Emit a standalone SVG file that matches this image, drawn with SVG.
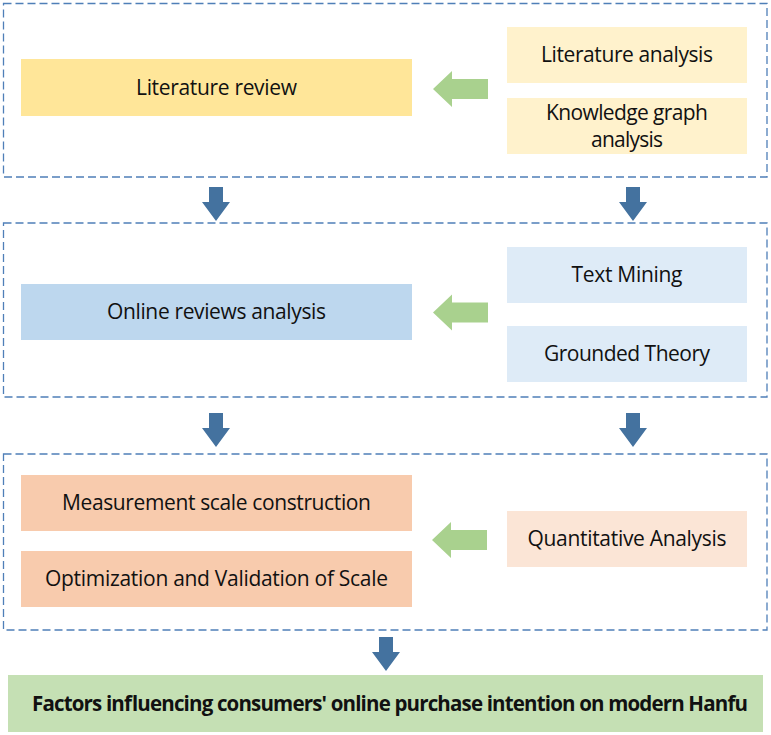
<svg xmlns="http://www.w3.org/2000/svg" width="771" height="735" viewBox="0 0 771 735">
<style>
.frame{fill:none;stroke:#4f7fb8;stroke-width:1.3;stroke-dasharray:8 4}
.t{font-family:"Open Sans","Liberation Sans",sans-serif;font-size:21px;fill:#111;text-anchor:middle}
.b{font-family:"Open Sans","Liberation Sans",sans-serif;font-size:20.5px;font-weight:bold;fill:#111;text-anchor:middle}
.down{fill:#44729f}
.left{fill:#a9d18e}
</style>
<defs>
<path id="dn" d="M-7,0 H7 V15 H14 L0,34 L-14,15 H-7 Z"/>
<path id="lf" d="M0,0 L19,-18 V-10 H55 V10 H19 V18 Z"/>
</defs>
<rect class="frame" x="3.5" y="3.5" width="763.5" height="173.5"/>
<rect class="frame" x="3.5" y="223" width="763.5" height="174"/>
<rect class="frame" x="3.5" y="454" width="763.5" height="176"/>

<g id="n-literature-review"><rect x="21" y="59" width="391" height="57" fill="#ffe699"/><text class="t" x="216.5" y="95" textLength="161">Literature review</text></g>
<g id="n-literature-analysis"><rect x="507" y="27" width="240" height="56" fill="#fff2cc"/><text class="t" x="627" y="62" textLength="172">Literature analysis</text></g>
<g id="n-knowledge-graph"><rect x="507" y="98" width="240" height="56" fill="#fff2cc"/><text class="t" x="627" y="120" textLength="162">Knowledge graph</text><text class="t" x="627" y="147" textLength="72">analysis</text></g>
<g id="n-online-reviews"><rect x="21" y="284" width="391" height="56" fill="#bdd7ee"/><text class="t" x="216.5" y="319" textLength="219">Online reviews analysis</text></g>
<g id="n-text-mining"><rect x="507" y="247" width="240" height="56" fill="#deebf7"/><text class="t" x="627" y="282" textLength="111">Text Mining</text></g>
<g id="n-grounded-theory"><rect x="507" y="326" width="240" height="56" fill="#deebf7"/><text class="t" x="627" y="361" textLength="166">Grounded Theory</text></g>
<g id="n-measurement"><rect x="21" y="475" width="391" height="56" fill="#f8cbad"/><text class="t" x="216.5" y="510" textLength="309">Measurement scale construction</text></g>
<g id="n-optimization"><rect x="21" y="551" width="391" height="56" fill="#f8cbad"/><text class="t" x="216.5" y="586" textLength="343">Optimization and Validation of Scale</text></g>
<g id="n-quantitative"><rect x="507" y="511" width="240" height="56" fill="#fbe5d6"/><text class="t" x="627" y="546" textLength="199">Quantitative Analysis</text></g>
<g id="n-factors"><rect x="8" y="675" width="755" height="57" fill="#c5e0b4"/><text class="b" x="390" y="710.5" textLength="716">Factors influencing consumers' online purchase intention on modern Hanfu</text></g>

<g id="connectors">
<use href="#lf" class="left" x="433" y="89"/>
<use href="#lf" class="left" x="433" y="312.5"/>
<use href="#lf" class="left" x="432" y="540"/>
<use href="#dn" class="down" x="216" y="187"/>
<use href="#dn" class="down" x="633" y="187"/>
<use href="#dn" class="down" x="216" y="413"/>
<use href="#dn" class="down" x="633" y="413"/>
<use href="#dn" class="down" x="386" y="637"/>
</g>
</svg>
